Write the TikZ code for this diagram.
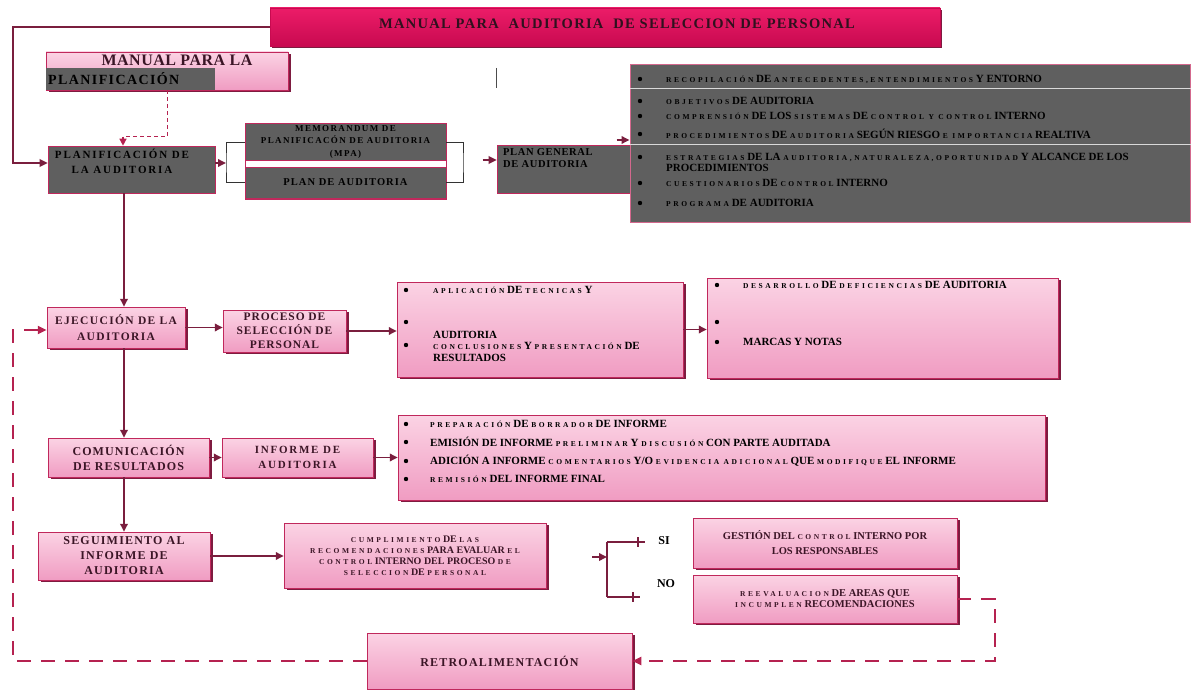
\documentclass[tikz,border=0pt]{standalone}
\usepackage{fontspec}
\setmainfont{Liberation Serif}
\usetikzlibrary{arrows.meta,shadows}

\definecolor{rosaclaro}{HTML}{FBD3E4}
\definecolor{rosaosc}{HTML}{F09CC2}
\definecolor{borde}{HTML}{C0285C}
\definecolor{sombra}{HTML}{7E1B40}
\definecolor{gris}{HTML}{5F5F5F}
\definecolor{vino}{HTML}{7A1E3E}
\definecolor{guion}{HTML}{B52250}
\definecolor{fucsia}{HTML}{EC1C68}
\definecolor{fucsiaosc}{HTML}{C80A50}
\definecolor{letra}{HTML}{3B1526}

% palabras chicas y espaciadas
\newcommand{\chico}[1]{{\fontsize{7.5}{8}\selectfont\addfontfeatures{LetterSpace=34}#1}}

\tikzset{
  cajarosa/.style={draw=borde, line width=0.5pt, top color=rosaclaro, bottom color=rosaosc,
    drop shadow={shadow xshift=2.5pt, shadow yshift=-2pt, fill=sombra, opacity=1},
    text=letra, align=center, inner sep=0pt, font=\bfseries\fontsize{11}{15}\selectfont},
  cajagris/.style={draw=borde, line width=0.6pt, fill=gris, inner sep=0pt, text=black,
    align=center},
  renglon/.style={anchor=west, inner sep=0pt, font=\bfseries\fontsize{11}{12}\selectfont},
  flecha/.style={draw=vino, line width=1.8pt, -{Triangle[length=8pt,width=7.5pt]}},
  corchete/.style={draw=black!80, line width=1pt},
  punteado/.style={draw=guion, line width=2.5pt, dash pattern=on 14pt off 10pt,
    -{Triangle[length=9pt,width=8pt]}}
}

\begin{document}
\begin{tikzpicture}[x=1pt,y=-1pt]
  \useasboundingbox (0,0) rectangle (1195,690);

  % titulo
  \node[draw=fucsiaosc, top color=fucsia, bottom color=fucsiaosc, minimum width=670, minimum height=38,
    drop shadow={shadow xshift=2pt, shadow yshift=-2pt, fill=sombra, opacity=1}] (titulo) at (605,27) {};
  \node[text=letra!80!black, inner sep=0pt, font=\bfseries\fontsize{14.5}{16}\selectfont\addfontfeatures{LetterSpace=9}]
    (titulotxt) at (617,24) {MANUAL PARA\ \ AUDITORIA\ \ DE SELECCION DE PERSONAL};

  % manual para la planificacion
  \node[cajarosa, minimum width=242, minimum height=38] (manual) at (167,71) {};
  \node[cajagris, draw=none, minimum width=169, minimum height=22] (manualgris) at (130.5,79) {};
  \node[text=letra, inner sep=0pt, font=\bfseries\fontsize{16}{17}\selectfont\addfontfeatures{LetterSpace=3}]
    (manualtxt) at (177,60) {MANUAL PARA LA};
  \node[anchor=west, inner sep=0pt, font=\bfseries\fontsize{14}{16}\selectfont\addfontfeatures{LetterSpace=10}]
    (planiftxt) at (48,79) {PLANIFICACIÓN};

  % planificacion de la auditoria
  \node[cajagris, minimum width=167, minimum height=47] (plan) at (131.5,169.5) {};
  \node[anchor=north, inner sep=0pt, align=center, font=\bfseries\fontsize{11}{15}\selectfont\addfontfeatures{LetterSpace=17}]
    (plantxt) at (122,149) {PLANIFICACIÓN DE\\LA AUDITORIA};

  % memorandum y plan de auditoria
  \node[draw=borde, fill=white, minimum width=201, minimum height=76, inner sep=0pt] (marco) at (345.5,161) {};
  \node[cajagris, minimum width=201, minimum height=37, font=\bfseries\fontsize{9}{12.5}\selectfont\addfontfeatures{LetterSpace=15}]
    (memo) at (345.5,141.5) {MEMORANDUM DE\\PLANIFICACÓN DE AUDITORIA\\(MPA)};
  \node[cajagris, minimum width=201, minimum height=31, font=\bfseries\fontsize{10.5}{12}\selectfont\addfontfeatures{LetterSpace=10}]
    (planaud) at (345.5,182.5) {PLAN DE AUDITORIA};
  \coordinate (brizq) at (226,163);
  \coordinate (brder) at (463,163);
  \draw[corchete] ([yshift=18pt]marco.west) -| (brizq) |- ([yshift=-22pt]marco.west);
  \draw[corchete] ([yshift=18pt]marco.east) -| (brder) |- ([yshift=-22pt]marco.east);

  % plan general
  \node[cajagris, minimum width=136, minimum height=48] (pgen) at (565,169) {};
  \node[anchor=north west, inner sep=0pt, align=left, font=\bfseries\fontsize{10.5}{12}\selectfont\addfontfeatures{LetterSpace=6}]
    (pgentxt) at (503,148) {PLAN GENERAL\\DE AUDITORIA};
  \draw[black!70, line width=0.8pt] (496,68) -- (496,88);

  % lista del plan general
  \node[cajagris, draw=borde!70, line width=1pt, minimum width=560, minimum height=157] (lista) at (910,143.5) {};
  \draw[white!70!gray, line width=1pt] (lista.west |- 0,89) -- (lista.east |- 0,89);
  \draw[white!70!gray, line width=1pt] (lista.west |- 0,145) -- (lista.east |- 0,145);
  \foreach \y/\txt in {79/{\chico{RECOPILACIÓN} DE \chico{ANTECEDENTES,ENTENDIMIENTOS} Y ENTORNO},
      101/{\chico{OBJETIVOS} DE AUDITORIA},
      116/{\chico{COMPRENSIÓN} DE LOS \chico{SISTEMAS} DE \chico{CONTROL Y CONTROL} INTERNO},
      134/{\chico{PROCEDIMIENTOS} DE \chico{AUDITORIA} SEGÚN RIESGO \chico{E IMPORTANCIA} REALTIVA},
      157/{\chico{ESTRATEGIAS} DE LA \chico{AUDITORIA,NATURALEZA,OPORTUNIDAD} Y ALCANCE DE LOS},
      183/{\chico{CUESTIONARIOS} DE \chico{CONTROL} INTERNO},
      203/{\chico{PROGRAMA} DE AUDITORIA}} {
    \fill[black] (640,\y) circle (2.2pt);
    \node[renglon] (g\y) at (666,\y) {\txt};
  }
  \node[renglon] (g167) at (666,168) {PROCEDIMIENTOS};

  % ejecucion
  \node[cajarosa, minimum width=138, minimum height=41, font=\bfseries\fontsize{11.5}{16}\selectfont\addfontfeatures{LetterSpace=12}]
    (ejec) at (116,327.5) {EJECUCIÓN DE LA\\AUDITORIA};
  \node[cajarosa, minimum width=123, minimum height=42, font=\bfseries\fontsize{11.5}{14}\selectfont\addfontfeatures{LetterSpace=8}]
    (proceso) at (284.5,331) {PROCESO DE\\SELECCIÓN DE\\PERSONAL};
  \node[cajarosa, minimum width=286, minimum height=95] (lista2) at (540,329.5) {};
  \foreach \y in {290,322,345}
    \fill[black] (406,\y) circle (2.2pt);
  \node[renglon] (a2) at (433,290) {\chico{APLICACIÓN} DE \chico{TECNICAS} Y};
  \node[renglon] (b2) at (433,335) {AUDITORIA};
  \node[renglon] (c2) at (433,346) {\chico{CONCLUSIONES} Y \chico{PRESENTACIÓN} DE};
  \node[renglon] (d2) at (433,358) {RESULTADOS};
  \node[cajarosa, minimum width=351, minimum height=100] (lista3) at (882.5,328) {};
  \foreach \y in {285,322,342}
    \fill[black] (717,\y) circle (2.2pt);
  \node[renglon] (a3) at (743,285) {\chico{DESARROLLO} DE \chico{DEFICIENCIAS} DE AUDITORIA};
  \node[renglon] (b3) at (743,342) {MARCAS Y NOTAS};

  % comunicacion
  \node[cajarosa, minimum width=161, minimum height=39, font=\bfseries\fontsize{12}{15}\selectfont\addfontfeatures{LetterSpace=9}]
    (com) at (128.5,457.5) {COMUNICACIÓN\\DE RESULTADOS};
  \node[cajarosa, minimum width=151, minimum height=39, font=\bfseries\fontsize{11}{15}\selectfont\addfontfeatures{LetterSpace=16}]
    (informe) at (297.5,457.5) {INFORME DE\\AUDITORIA};
  \node[cajarosa, minimum width=647, minimum height=85] (lista4) at (721.5,457.5) {};
  \foreach \y/\txt in {424/{\chico{PREPARACIÓN} DE \chico{BORRADOR} DE INFORME},
      442/{EMISIÓN DE INFORME \chico{PRELIMINAR} Y \chico{DISCUSIÓN} CON PARTE AUDITADA},
      461/{ADICIÓN A INFORME \chico{COMENTARIOS} Y/O \chico{EVIDENCIA ADICIONAL} QUE \chico{MODIFIQUE} EL INFORME},
      479/{\chico{REMISIÓN} DEL INFORME FINAL}} {
    \fill[black] (406,\y) circle (2.2pt);
    \node[renglon] (c\y) at (430,\y) {\txt};
  }

  % seguimiento
  \node[cajarosa, minimum width=172, minimum height=48, font=\bfseries\fontsize{12}{15}\selectfont\addfontfeatures{LetterSpace=10}]
    (seg) at (124,556) {SEGUIMIENTO AL\\INFORME DE\\AUDITORIA};
  \node[cajarosa, minimum width=262, minimum height=65, font=\bfseries\fontsize{10}{11}\selectfont]
    (cumpl) at (415,555.5) {\chico{CUMPLIMIENTO} DE \chico{LAS}\\\chico{RECOMENDACIONES} PARA EVALUAR \chico{EL}\\
      \chico{CONTROL} INTERNO DEL PROCESO \chico{DE}\\\chico{SELECCION} DE \chico{PERSONAL}};
  \node[cajarosa, minimum width=264, minimum height=50, font=\bfseries\fontsize{10.5}{15}\selectfont]
    (gestion) at (825,543) {GESTIÓN DEL \chico{CONTROL} INTERNO POR\\LOS RESPONSABLES};
  \node[cajarosa, minimum width=264, minimum height=48, font=\bfseries\fontsize{10.5}{11}\selectfont]
    (reeval) at (825,599) {\chico{REEVALUACION} DE AREAS QUE\\\chico{INCUMPLEN} RECOMENDACIONES};
  \node[inner sep=0pt, font=\bfseries\fontsize{12}{13}\selectfont] (si) at (664,541) {SI};
  \node[inner sep=0pt, font=\bfseries\fontsize{12}{13}\selectfont] (no) at (666,584) {NO};
  \coordinate (rama) at (607,557);
  \draw[vino, line width=1.3pt] (rama |- 0,542) -- (rama |- 0,597);
  \draw[vino, line width=1.3pt] (rama |- 0,542) -- (645,542) (638,537) -- (638,547);
  \draw[vino, line width=1.3pt] (rama |- 0,597) -- (640,597) (633,592) -- (633,602);

  % retroalimentacion
  \node[cajarosa, minimum width=265, minimum height=56, font=\bfseries\fontsize{12}{13}\selectfont\addfontfeatures{LetterSpace=10}]
    (retro) at (499.5,661) {RETROALIMENTACIÓN};

  % conectores
  \coordinate (eje) at (124,0);
  \coordinate (esqsup) at (13,27);
  \coordinate (esqizq) at (13,0);
  \coordinate (esqder) at (995,0);
  \draw[flecha] (titulo.west) -- (esqsup) |- ([yshift=6.5pt]plan.west);
  \draw[punteado, line width=1.3pt, dash pattern=on 4pt off 3pt, -{Triangle[length=7pt,width=7pt]}]
    ([xshift=0.5pt]manual.south) -- ++(0,46) -| (plan.north -| 123,0);
  \draw[flecha] ([yshift=6.5pt]plan.east) -- (brizq);
  \draw[flecha] ([xshift=-14pt,yshift=9pt]pgen.west) -- ([yshift=9pt]pgen.west);
  \draw[flecha] ([xshift=-13pt,yshift=3.5pt]lista.west) -- ([yshift=3.5pt]lista.west);
  \draw[flecha] (plan.south -| eje) -- (ejec.north -| eje);
  \draw[flecha] (ejec.south -| eje) -- (com.north -| eje);
  \draw[flecha] (com.south -| eje) -- (seg.north -| eje);
  \draw[flecha] (ejec.east) -- (ejec.east -| proceso.west);
  \draw[flecha] (proceso.east) -- (proceso.east -| lista2.west);
  \draw[flecha] (lista2.east) -- (lista2.east -| lista3.west);
  \draw[flecha] (com.east) -- (informe.west);
  \draw[flecha] (informe.east) -- (lista4.west);
  \draw[flecha] (seg.east) -- (seg.east -| cumpl.west);
  \draw[flecha] ([xshift=-15pt]rama) -- (rama);
  \draw[punteado] (reeval.east) -- (reeval.east -| esqder) |- (retro.east);
  \draw[punteado] (retro.west) -- (retro.west -| esqizq) |- ([yshift=-2.5pt]ejec.west);
\end{tikzpicture}
\end{document}
